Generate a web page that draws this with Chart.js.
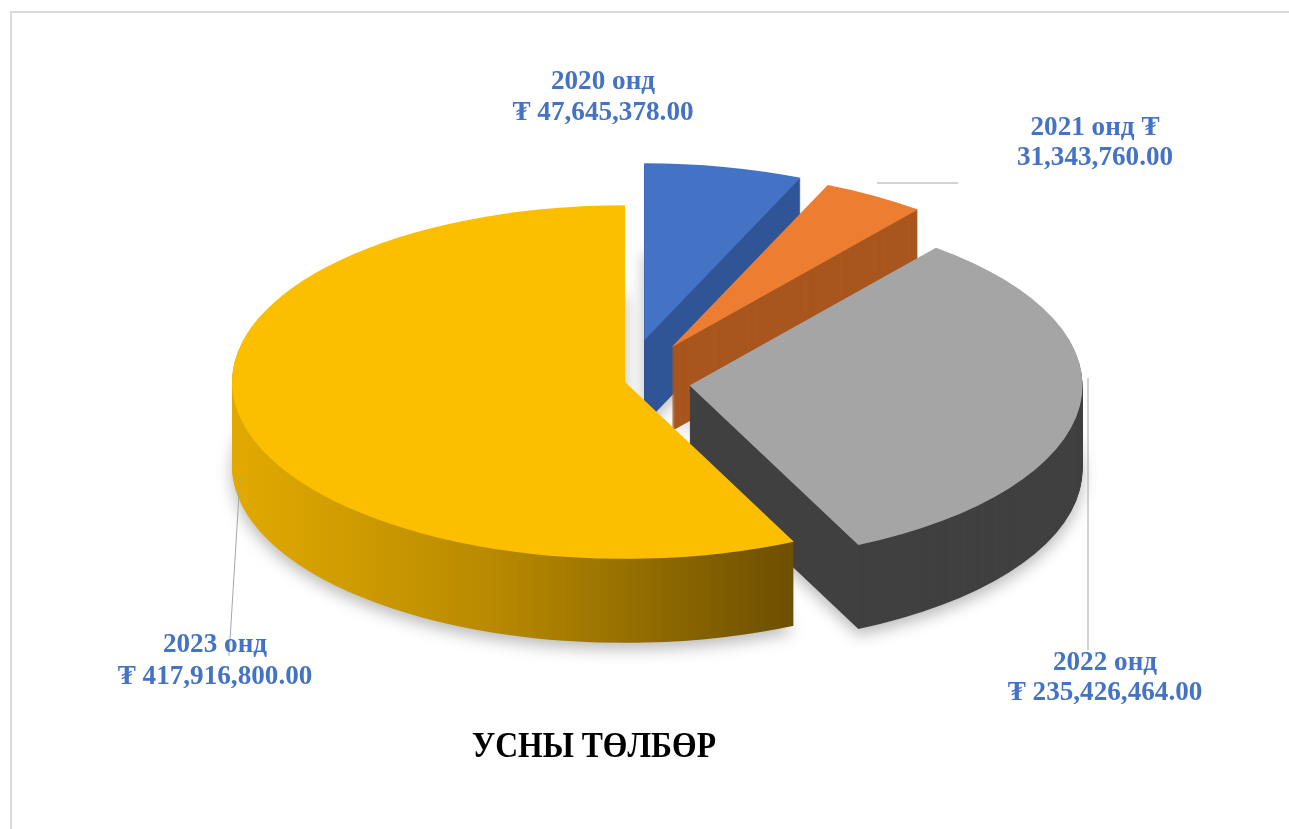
<!DOCTYPE html>
<html>
<head>
<meta charset="utf-8">
<script src="https://cdn.jsdelivr.net/npm/chart.js@4.4.1/dist/chart.umd.min.js"></script>
<style>
html, body { margin: 0; padding: 0; background: #fff; }
#wrap { position: relative; width: 1289px; height: 829px; overflow: hidden; }
#frame { position: absolute; left: 10px; top: 11px; width: 1300px; height: 900px;
         border-left: 2px solid #dadada; border-top: 2px solid #dadada; }
canvas { position: absolute; left: 0; top: 0; }
</style>
</head>
<body>
<div id="wrap">
  <div id="frame"></div>
  <canvas id="myChart" width="1289" height="829"></canvas>
</div>
<script>
const Jahre = ["2020 онд", "2021 онд", "2022 онд", "2023 онд"];
const Werte = [47645378, 31343760, 235426464, 417916800];
const Titel = "УСНЫ ТӨЛБӨР";

// colours of the top faces and of the walls
const Farben = ["#4472c4", "#ed7d31", "#a5a5a5", "#fcbf00"];
const Seiten = ["#2f5597", "#a9561f", "#404040", null];

// 3d look
const NEIGUNG = 0.45;     // vertical squash of the circle
const MITTE_Y = 382;      // screen y of the pie centre
const TIEFE = 84;         // wall height in px
const EXPLODE = [95, 90, 65, 0];

// label layout: centre x, y of line 1, y of line 2, break after currency sign?
const LabelPos = [
  [603, 82, 113, false],
  [1095, 128, 158, true],
  [1105, 663, 693, false],
  [215, 645, 677, false]
];
const Linien = [
  null,
  [877, 183, 958, 183],
  [1088, 378, 1088, 650],
  [240, 478, 229, 656]
];

function Geld(v) {
  return v.toLocaleString("en-US", { minimumFractionDigits: 2, maximumFractionDigits: 2 });
}

function Text(ctx, s, x, y, font, color, sx) {
  ctx.save();
  ctx.font = font;
  ctx.fillStyle = color;
  ctx.textAlign = "center";
  ctx.textBaseline = "middle";
  ctx.translate(x, y);
  ctx.scale(sx, 1);
  ctx.fillText(s, 0, 0);
  ctx.restore();
}

const pie3d = {
  id: "pie3d",
  beforeDatasetsDraw(chart) {
    const ctx = chart.ctx;
    const arcs = chart.getDatasetMeta(0).data;
    const cy = arcs[0].y;
    ctx.save();
    ctx.translate(0, MITTE_Y);
    ctx.scale(1, NEIGUNG);
    ctx.translate(0, -cy);

    const gelb = ctx.createLinearGradient(230, 0, 810, 0);
    gelb.addColorStop(0, "#e2aa00");
    gelb.addColorStop(0.45, "#b98a00");
    gelb.addColorStop(1, "#684c00");

    const shift = arcs.map((arc, i) => {
      const mid = (arc.startAngle + arc.endAngle) / 2;
      return [Math.cos(mid) * EXPLODE[i], Math.sin(mid) * EXPLODE[i]];
    });

    // walls: the slice drawn again, stepped downwards
    arcs.forEach((arc, i) => {
      const side = Seiten[i] || gelb;
      const o = arc.options;
      arc.options = new Proxy(o, { get: (t, p) => (p === "backgroundColor" || p === "borderColor") ? side : t[p] });
      for (let d = TIEFE; d > 0; d--) {
        ctx.save();
        ctx.translate(shift[i][0], shift[i][1] + d / NEIGUNG);
        if (d === TIEFE) {
          ctx.shadowColor = "rgba(0,0,0,0.28)";
          ctx.shadowBlur = 16;
          ctx.shadowOffsetY = 6;
        }
        arc.draw(ctx);
        ctx.restore();
      }
      arc.options = o;
    });

    // top faces
    arcs.forEach((arc, i) => {
      ctx.save();
      ctx.translate(shift[i][0], shift[i][1]);
      arc.draw(ctx);
      ctx.restore();
    });

    ctx.restore();
    return false;
  },
  afterDraw(chart) {
    const ctx = chart.ctx;
    ctx.save();
    ctx.strokeStyle = "#a6a6a6";
    ctx.lineWidth = 1;
    Linien.forEach(l => {
      if (!l) return;
      ctx.beginPath();
      ctx.moveTo(l[0], l[1]);
      ctx.lineTo(l[2], l[3]);
      ctx.stroke();
    });
    ctx.restore();

    const font = "bold 28px 'Liberation Serif', 'Times New Roman', serif";
    Jahre.forEach((j, i) => {
      const p = LabelPos[i];
      let a = j, b = "₮ " + Geld(Werte[i]);
      if (p[3]) { a = j + " ₮"; b = Geld(Werte[i]); }
      Text(ctx, a, p[0], p[1], font, "#4472c4", 0.97);
      Text(ctx, b, p[0], p[2], font, "#4472c4", 0.97);
    });

    Text(ctx, Titel, 594, 748, "bold 36px 'Liberation Serif', 'Times New Roman', serif", "#000", 0.88);
  }
};

const ctx = document.getElementById("myChart");

new Chart(ctx, {
  type: "pie",
  data: {
    labels: Jahre,
    datasets: [{
      data: Werte,
      backgroundColor: Farben,
      borderWidth: 0,
      radius: 393
    }]
  },
  options: {
    responsive: false,
    animation: false,
    devicePixelRatio: 1,
    layout: { padding: { left: 0, right: 39, top: 0, bottom: 0 } },
    plugins: {
      legend: { display: false },
      tooltip: { enabled: false },
      title: { display: false }
    }
  },
  plugins: [pie3d]
});
</script>
</body>
</html>
